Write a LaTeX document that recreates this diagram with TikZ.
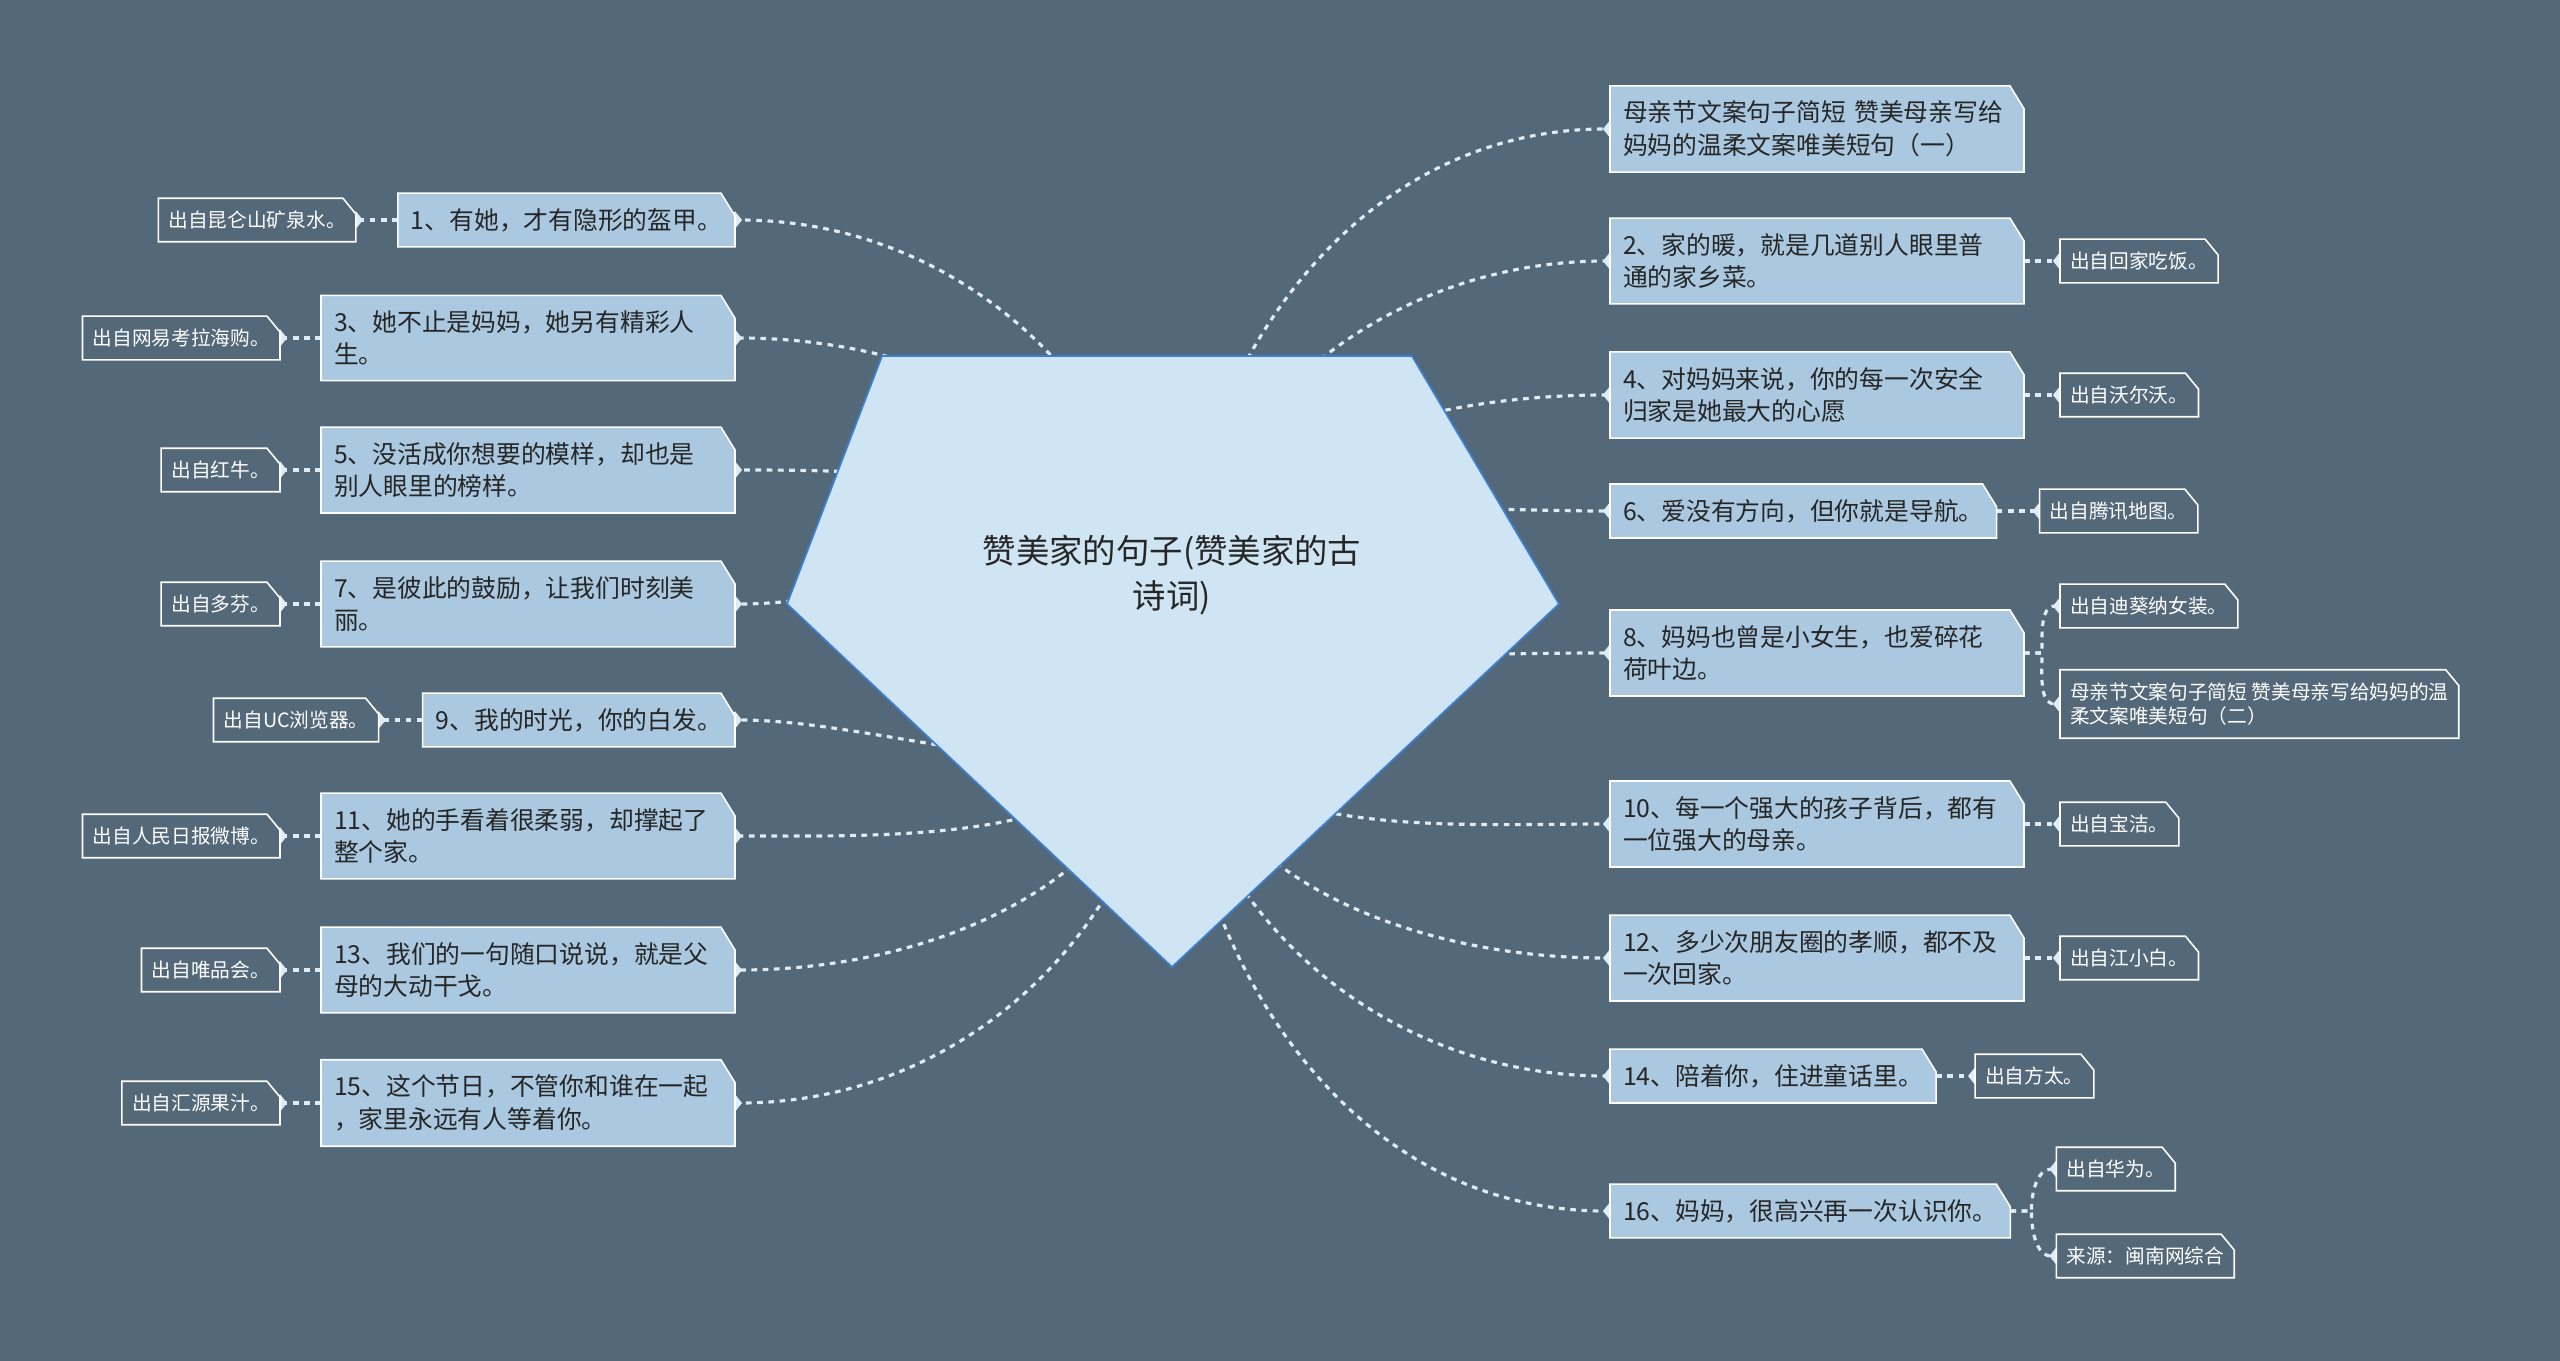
\documentclass[tikz,border=0pt]{standalone}
\usepackage{fontspec}
\setmainfont{Noto Sans CJK SC}
\usepackage{tikz}
\usepackage{xcolor}
\definecolor{Slate}{RGB}{83, 104, 121}
\definecolor{LeafBlue}{RGB}{170, 201, 224}
\definecolor{RootBlue}{RGB}{207, 229, 243}
\definecolor{RootEdge}{RGB}{61, 127, 208}
\definecolor{LinkWhite}{RGB}{221, 236, 246}
\definecolor{InkGray}{RGB}{38, 38, 38}
\usetikzlibrary{arrows.meta, positioning}
\pgfdeclarelayer{bg}
\pgfdeclarelayer{links}
\pgfdeclarelayer{boxes}
\pgfsetlayers{bg,links,boxes,main}

\begin{document}
\begin{tikzpicture}[
    x=0.1mm, y=0.1mm,
    quote/.style={rectangle, outer sep=0pt, text=InkGray, inner xsep=3.7pt, inner ysep=4.3pt,
        align=left, font=\fontsize{7.05}{9.3}\selectfont},
    wide/.style={quote, text width=3.88cm},
    source/.style={rectangle, outer sep=0pt, text=white, inner xsep=2.9pt, inner ysep=3.6pt,
        align=left, font=\fontsize{5.6}{7}\selectfont},
    quotebox/.style={fill=LeafBlue, draw=white, line width=0.45pt},
    sourcebox/.style={fill=Slate, draw=white, line width=0.45pt},
    roottext/.style={align=center, text=InkGray, font=\fontsize{9.5}{13}\selectfont},
    rootshape/.style={fill=RootBlue, draw=RootEdge, line width=0.5pt},
    link/.style={LinkWhite, line width=0.9pt, dash pattern=on 1.6pt off 1.6pt,
        -{Diamond[length=4pt, width=5pt, fill=LinkWhite]}, shorten >=-2pt}
]

\useasboundingbox (0,0) rectangle (2560,-1361);
\begin{pgfonlayer}{bg}
\fill[Slate] (0,0) rectangle (2560,-1361);
\end{pgfonlayer}

% Centre
\coordinate (hub) at (1172,-661);
\filldraw[rootshape] (882,-356) -- (1412,-356) -- (1559,-604) -- (1172,-967) -- (787,-604) -- cycle;
\node[roottext] (root) at (1172,-575) {赞美家的句子(赞美家的古\\诗词)};

% Right branch
\node[wide, anchor=west] (r0) at (1610,-129) {母亲节文案句子简短 赞美母亲写给\\妈妈的温柔文案唯美短句（一）};
\node[wide, anchor=west] (r2) at (1610,-261) {2、家的暖，就是几道别人眼里普\\通的家乡菜。};
\node[wide, anchor=west] (r4) at (1610,-395) {4、对妈妈来说，你的每一次安全\\归家是她最大的心愿};
\node[quote, anchor=west] (r6) at (1610,-511) {6、爱没有方向，但你就是导航。};
\node[wide, anchor=west] (r8) at (1610,-653) {8、妈妈也曾是小女生，也爱碎花\\荷叶边。};
\node[wide, anchor=west] (r10) at (1610,-824) {10、每一个强大的孩子背后，都有\\一位强大的母亲。};
\node[wide, anchor=west] (r12) at (1610,-958) {12、多少次朋友圈的孝顺，都不及\\一次回家。};
\node[quote, anchor=west] (r14) at (1610,-1076) {14、陪着你，住进童话里。};
\node[quote, anchor=west] (r16) at (1610,-1211) {16、妈妈，很高兴再一次认识你。};

\node[source, right=3.6mm of r2] (s2) {出自回家吃饭。};
\node[source, right=3.6mm of r4] (s4) {出自沃尔沃。};
\node[source, right=4.3mm of r6] (s6) {出自腾讯地图。};
\node[source, anchor=west] (s8a) at ([shift={(36,47)}]r8.east) {出自迪葵纳女装。};
\node[source, anchor=west] (s8b) at ([shift={(36,-51)}]r8.east) {母亲节文案句子简短 赞美母亲写给妈妈的温\\柔文案唯美短句（二）};
\node[source, right=3.6mm of r10] (s10) {出自宝洁。};
\node[source, right=3.6mm of r12] (s12) {出自江小白。};
\node[source, right=3.9mm of r14] (s14) {出自方太。};
\node[source, anchor=west] (s16a) at ([shift={(46,42)}]r16.east) {出自华为。};
\node[source, anchor=west] (s16b) at ([shift={(46,-45)}]r16.east) {来源：闽南网综合};

% Left branch
\node[quote, anchor=east] (l1) at (735,-220) {1、有她，才有隐形的盔甲。};
\node[wide, anchor=east] (l3) at (735,-338) {3、她不止是妈妈，她另有精彩人\\生。};
\node[wide, anchor=east] (l5) at (735,-470) {5、没活成你想要的模样，却也是\\别人眼里的榜样。};
\node[wide, anchor=east] (l7) at (735,-604) {7、是彼此的鼓励，让我们时刻美\\丽。};
\node[quote, anchor=east] (l9) at (735,-720) {9、我的时光，你的白发。};
\node[wide, anchor=east] (l11) at (735,-836) {11、她的手看着很柔弱，却撑起了\\整个家。};
\node[wide, anchor=east] (l13) at (735,-970) {13、我们的一句随口说说，就是父\\母的大动干戈。};
\node[wide, anchor=east] (l15) at (735,-1103) {15、这个节日，不管你和谁在一起\\，家里永远有人等着你。};

\node[source, left=4.2mm of l1] (t1) {出自昆仑山矿泉水。};
\node[source, left=4.1mm of l3] (t3) {出自网易考拉海购。};
\node[source, left=4.1mm of l5] (t5) {出自红牛。};
\node[source, left=4.1mm of l7] (t7) {出自多芬。};
\node[source, left=4.4mm of l9] (t9) {出自UC浏览器。};
\node[source, left=4.1mm of l11] (t11) {出自人民日报微博。};
\node[source, left=4.1mm of l13] (t13) {出自唯品会。};
\node[source, left=4.1mm of l15] (t15) {出自汇源果汁。};

% Boxes with the clipped corner
\begin{pgfonlayer}{boxes}
\foreach \n in {r0,r2,r4,r6,r8,r10,r12,r14,r16,l1,l3,l5,l7,l9,l11,l13,l15}
    \filldraw[quotebox] (\n.south west) -- (\n.north west) -- ([xshift=-4pt]\n.north east)
        -- ([yshift=-6.5pt]\n.north east) -- (\n.south east) -- cycle;
\foreach \n in {s2,s4,s6,s8a,s8b,s10,s12,s14,s16a,s16b,t1,t3,t5,t7,t9,t11,t13,t15}
    \filldraw[sourcebox] (\n.south west) -- (\n.north west) -- ([xshift=-3.7pt]\n.north east)
        -- ([yshift=-4.5pt]\n.north east) -- (\n.south east) -- cycle;
\end{pgfonlayer}

% Connectors
\begin{pgfonlayer}{links}
\foreach \n/\o in {r0/90, r2/90, r4/90, r6/90, r8/0, r10/-90, r12/-90, r14/-90, r16/-90}
    \draw[link] (hub) to[out=\o, in=180] (\n.west);
\foreach \n/\o in {l1/90, l3/90, l5/90, l7/90, l9/-90, l11/-90, l13/-90, l15/-90}
    \draw[link] (hub) to[out=\o, in=0] (\n.east);
\foreach \a/\b in {r2/s2, r4/s4, r6/s6, r10/s10, r12/s12, r14/s14}
    \draw[link] (\a.east) -- (\b.west);
\foreach \a/\b in {l1/t1, l3/t3, l5/t5, l7/t7, l9/t9, l11/t11, l13/t13, l15/t15}
    \draw[link] (\a.west) -- (\b.east);
\draw[link] (r8.east) -- ++(18,0) to[out=90, in=180] (s8a.west);
\draw[link] (r8.east) -- ++(18,0) to[out=-90, in=180] (s8b.west);
\draw[link] (r16.east) -- ++(21,0) to[out=90, in=180] (s16a.west);
\draw[link] (r16.east) -- ++(21,0) to[out=-90, in=180] (s16b.west);
\end{pgfonlayer}

\end{tikzpicture}
\end{document}
